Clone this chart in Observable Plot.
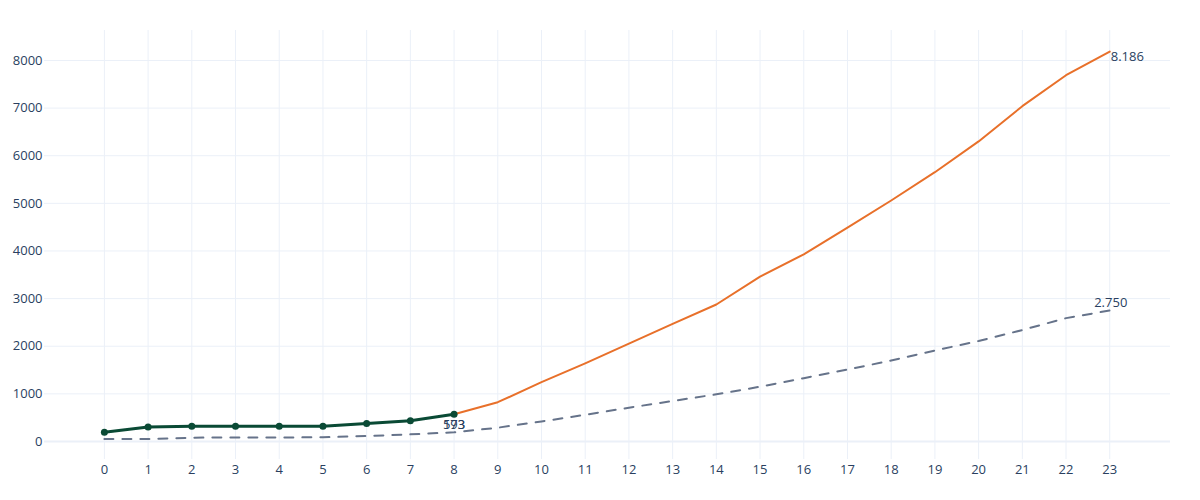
<!DOCTYPE html>
<html>
<head>
<meta charset="utf-8">
<script src="https://cdn.jsdelivr.net/npm/d3@7"></script>
<script src="https://cdn.jsdelivr.net/npm/@observablehq/plot@0.6"></script>
<style>
  body { margin: 0; background: #fff; }
</style>
</head>
<body>
<div id="chart"></div>
<script>
// x positions (years from start)
const xTicks = d3.range(0, 24);
const yTicks = [0, 1000, 2000, 3000, 4000, 5000, 6000, 7000, 8000];

// observed values, x = 0..8
const actualX = [0, 1, 2, 3, 4, 5, 6, 7, 8];
const actualY = [195, 305, 320, 320, 320, 322, 378, 435, 573];

// projection, x = 8..23
const projX = [8, 9, 10, 11, 12, 13, 14, 15, 16, 17, 18, 19, 20, 21, 22, 23];
const projY = [573, 825, 1245, 1640, 2055, 2470, 2876, 3460, 3930, 4490, 5060, 5654, 6300, 7040, 7690, 8186];

// lower scenario (dashed), x = 0..23
const lowX = xTicks;
const lowY = [50, 52, 80, 85, 85, 88, 115, 150, 193, 290, 420, 560, 710, 850, 990, 1150, 1330, 1510, 1700, 1910, 2110, 2340, 2590, 2750];

// end labels
const labelX = [23, 23, 8, 8];
const labelY = [8186, 2750, 573, 193];
const labelText = ["8.186", "2.750", "573", "193"];

const actual = actualX.map((x, i) => ({x, y: actualY[i]}));
const proj = projX.map((x, i) => ({x, y: projY[i]}));
const low = lowX.map((x, i) => ({x, y: lowY[i]}));
const labels = labelX.map((x, i) => ({x, y: labelY[i], text: labelText[i]}));

const grid = "#ebf0f8";
const ink = "#2a3f5f";

// one text mark per label, since dx/dy are constants
function label(i, anchor, dx, dy) {
  return Plot.text([labels[i]], {x: "x", y: "y", text: "text", textAnchor: anchor, dx, dy, fill: ink, fontSize: 13});
}

let chart = Plot.plot({
  width: 1200,
  height: 500,
  marginLeft: 44,
  marginRight: 30,
  marginTop: 30,
  marginBottom: 41,
  style: {fontFamily: "'Open Sans', sans-serif", fontSize: "13px", color: ink, background: "#fff"},
  x: {
    domain: [-1.37, 24.39],
    ticks: xTicks,
    tickSize: 0,
    tickPadding: 5,
    label: null
  },
  y: {
    domain: [-378, 8629],
    ticks: yTicks,
    tickSize: 0,
    tickPadding: 2,
    tickFormat: d3.format("d"),
    label: null
  },
  marks: [
    Plot.gridX(xTicks, {stroke: grid, strokeOpacity: 1}),
    Plot.gridY(yTicks.filter(d => d !== 0), {stroke: grid, strokeOpacity: 1}),
    Plot.ruleY([0], {stroke: grid, strokeWidth: 2}),
    Plot.line(low, {x: "x", y: "y", stroke: "#66738a", strokeWidth: 2, strokeDasharray: "9,9"}),
    Plot.line(proj, {x: "x", y: "y", stroke: "#e8702a", strokeWidth: 2}),
    Plot.line(actual, {x: "x", y: "y", stroke: "#0a4a35", strokeWidth: 3}),
    Plot.dot(actual, {x: "x", y: "y", fill: "#0a4a35", r: 3.5}),
    label(0, "start", 1, 5),
    label(1, "middle", 1, -8),
    label(2, "middle", 0, 11),
    label(3, "middle", 0, -7)
  ]
});

d3.select("#chart").append(() => chart);
</script>
</body>
</html>
